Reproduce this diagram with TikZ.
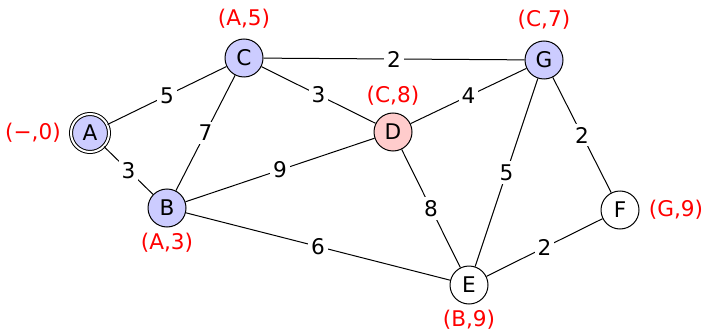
\documentclass[tikz,border=0pt]{standalone}
\usepackage{fontspec}
\setmainfont{DejaVu Sans}
\begin{document}
\begin{tikzpicture}[x=0.5pt,y=-0.5pt,
  vtx/.style={circle,draw,line width=0.5pt,minimum size=19pt,inner sep=0pt,fill=white,font=\fontsize{10.8}{13}\selectfont},
  visited/.style={fill={rgb,255:red,204;green,204;blue,255}},
  current/.style={fill={rgb,255:red,255;green,204;blue,204}},
  wlab/.style={fill=white,inner sep=1.5pt,font=\fontsize{10.8}{13}\selectfont},
  rlab/.style={text=red,font=\fontsize{10.8}{13}\selectfont},
  edge/.style={line width=0.5pt}]
\useasboundingbox (0,0) rectangle (704,331);
\node[vtx,visited,double,double distance=1pt] (A) at (90,133) {A};
\node[vtx,visited] (B) at (167,208) {B};
\node[vtx,visited] (C) at (244,58) {C};
\node[vtx,current] (D) at (393,132) {D};
\node[vtx,visited] (G) at (544,60) {G};
\node[vtx] (F) at (620,210) {F};
\node[vtx] (E) at (469,285) {E};
\draw[edge] (A) -- node[wlab] {5} (C);
\draw[edge] (A) -- node[wlab] {3} (B);
\draw[edge] (C) -- node[wlab] {7} (B);
\draw[edge] (C) -- node[wlab] {2} (G);
\draw[edge] (C) -- node[wlab] {3} (D);
\draw[edge] (D) -- node[wlab] {4} (G);
\draw[edge] (B) -- node[wlab] {9} (D);
\draw[edge] (B) -- node[wlab] {6} (E);
\draw[edge] (D) -- node[wlab] {8} (E);
\draw[edge] (G) -- node[wlab] {5} (E);
\draw[edge] (G) -- node[wlab] {2} (F);
\draw[edge] (E) -- node[wlab] {2} (F);
\node[rlab] (lA) at (33,133) {(−,0)};
\node[rlab] (lB) at (167,243) {(A,3)};
\node[rlab] (lC) at (244,19) {(A,5)};
\node[rlab] (lD) at (393,96) {(C,8)};
\node[rlab] (lG) at (544,20) {(C,7)};
\node[rlab] (lF) at (676,210) {(G,9)};
\node[rlab] (lE) at (469,320) {(B,9)};
\end{tikzpicture}
\end{document}
